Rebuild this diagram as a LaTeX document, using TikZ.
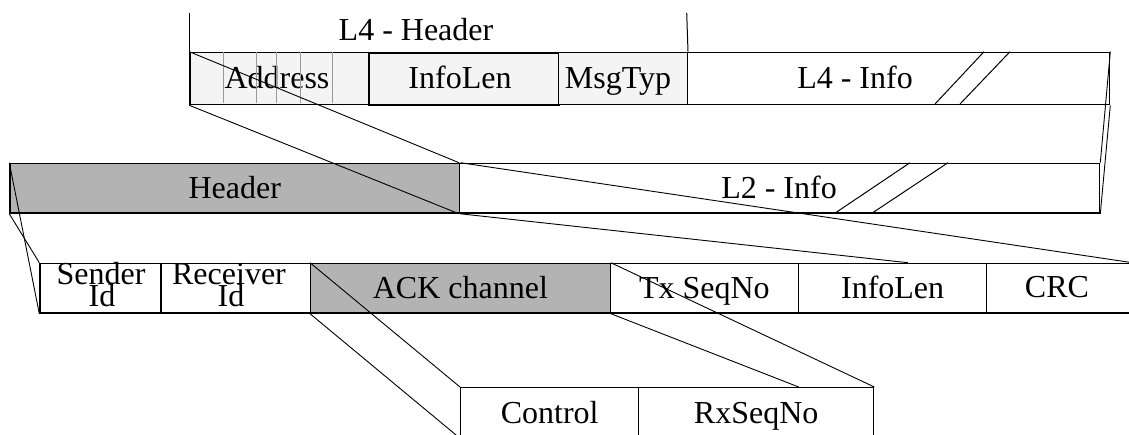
\documentclass[tikz,border=0pt]{standalone}
\usepackage{fontspec}
\setmainfont{Liberation Serif}
\usetikzlibrary{calc}
\definecolor{hdrgrey}{HTML}{B3B3B3}
\definecolor{palegrey}{HTML}{F4F4F4}
\definecolor{ruleg}{HTML}{9A9A9A}
\begin{document}
\begin{tikzpicture}[x=1pt,y=-1pt,
  field/.style={draw, rectangle, anchor=north west, inner sep=0pt, line width=1.3pt,
    font=\fontsize{32}{30}\selectfont, text height=21pt, text depth=0pt},
  lbl/.style={inner sep=0pt, font=\fontsize{32}{30}\selectfont, text height=21pt, text depth=0pt},
  link/.style={line width=0.9pt},
  cut/.style={line width=1pt}]
\useasboundingbox (0,0) rectangle (1129,435);

% ---- layer 4 frame ----
\node[field, fill=palegrey, minimum width=178.4pt, minimum height=52.3pt] (addr) at (189.3,51.7) {};
\node[lbl] (addrtxt) at (277,78) {Address};
\foreach \x in {223.3,256,276.7,300.7,332.7}
  \draw[ruleg, line width=0.6pt] (\x,52.4) -- (\x,103.3);
\node[field, fill=palegrey, line width=2pt, minimum width=190pt, minimum height=52.3pt] (ilenfour) at (367.7,51.7) {};
\node[lbl] (ilenfourtxt) at (460,78) {InfoLen};
\node[field, fill=palegrey, minimum width=129pt, minimum height=52.3pt] (msgtyp) at (557.7,51.7) {};
\node[lbl] (msgtyptxt) at (618,78) {MsgTyp};
\node[field, minimum width=422.3pt, minimum height=52.3pt] (lfourinfo) at (686.7,51.7) {};
\node[lbl] (lfourinfotxt) at (855,78) {L4 - Info};
\draw[cut] (935,104) -- (984,51.7);
\draw[cut] (960,104) -- (1010,51.7);

% header bracket
\coordinate (brl) at (189.3,13);
\coordinate (brr) at (686.7,13);
\draw[line width=1pt] (brl) -- (addr.north west);
\draw[line width=1pt] (brr) -- (msgtyp.north east);
\node[lbl] (lfourhdr) at (416,30) {L4 - Header};

% ---- layer 2 frame ----
\node[field, fill=hdrgrey, minimum width=449.7pt, minimum height=49.8pt] (hdr) at (9.3,162.7) {Header};
\node[field, minimum width=640pt, minimum height=49.8pt] (ltwoinfo) at (459,162.7) {};
\node[lbl] (ltwoinfotxt) at (779,187.6) {L2 - Info};
\draw[cut] (836,212.5) -- (910,162.7);
\draw[cut] (873,212.5) -- (948,162.7);

% ---- header fields ----
\node[field, minimum width=120.7pt, minimum height=49.7pt] (sender) at (39.3,262.7) {};
\node[lbl] (sendera) at (101,274.5) {Sender};
\node[lbl] (senderb) at (102,296.5) {Id};
\node[field, line width=1.8pt, minimum width=150pt, minimum height=49.7pt] (receiver) at (160,262.7) {};
\node[lbl] (receivera) at (229,274.5) {Receiver};
\node[lbl] (receiverb) at (231,296.5) {Id};
\node[field, fill=hdrgrey, minimum width=299.5pt, minimum height=49.7pt] (ack) at (310,262.7) {ACK channel};
\node[field, minimum width=188.5pt, minimum height=49.7pt] (txseq) at (609.5,262.7) {Tx SeqNo};
\node[field, minimum width=188pt, minimum height=49.7pt] (ilen) at (798,262.7) {InfoLen};
\node[field, minimum width=145pt, minimum height=49.7pt] (crc) at (986,262.7) {};
\node[lbl] (crctxt) at (1057,287.5) {CRC};

% ---- ACK channel fields ----
\node[field, minimum width=178pt, minimum height=50pt] (control) at (460,387) {Control};
\node[field, minimum width=235pt, minimum height=50pt] (rxseq) at (638,387) {RxSeqNo};

% ---- expansion lines ----
\draw[link] (addr.north west) -- (ltwoinfo.north west);
\draw[link] (addr.south west) -- (ltwoinfo.south west);
\draw[link] (lfourinfo.north east) -- (ltwoinfo.north east);
\draw[link] (lfourinfo.south east) -- (ltwoinfo.south east);

\draw[link] (hdr.north west) -- (sender.south west);
\draw[link] (hdr.south west) -- (sender.north west);
\draw[link] (hdr.north east) -- (crc.north east);
\draw[link] (hdr.south east) -- ($(ilen.north west)!0.58!(ilen.north east)$);

\draw[link] (ack.north west) -- (control.north west);
\draw[link] (ack.south west) -- (control.south west);
\draw[link] (ack.north east) -- (rxseq.north east);
\draw[link] (ack.south east) -- ($(rxseq.north west)!0.68!(rxseq.north east)$);
\end{tikzpicture}
\end{document}
